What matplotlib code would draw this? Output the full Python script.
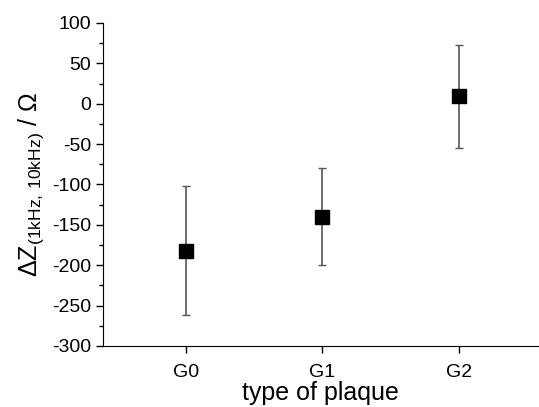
import numpy as np
import matplotlib
matplotlib.use("Agg")
import matplotlib.pyplot as plt
from matplotlib.ticker import MultipleLocator

plt.rcParams['font.family'] = ['Liberation Sans', 'DejaVu Sans']
plt.rcParams['mathtext.fontset'] = 'custom'
plt.rcParams['mathtext.rm'] = 'Liberation Sans'
plt.rcParams['mathtext.default'] = 'regular'
plt.rcParams['axes.unicode_minus'] = False

# Data
plaques = ["G0", "G1", "G2"]
delta_z = [-182, -140, 9]
delta_z_err = [80, 60, 64]

fig = plt.figure(figsize=(5.39, 4.07), dpi=100)
ax = fig.add_axes([0.191, 0.150, 0.807, 0.7935])

x = np.arange(len(plaques))
ax.errorbar(x, delta_z, yerr=delta_z_err, fmt='s', color='black',
            markersize=10, ecolor='#555555', elinewidth=1.2,
            capsize=3, capthick=1.0, zorder=3)

ax.set_xlim(-0.61, 2.58)
ax.set_ylim(-300, 100)
ax.set_xticks(x)
ax.set_xticklabels(plaques)
ax.yaxis.set_major_locator(MultipleLocator(50))
ax.yaxis.set_minor_locator(MultipleLocator(25))

ax.spines['top'].set_visible(False)
ax.spines['right'].set_visible(False)
ax.tick_params(axis='both', which='major', direction='out', length=5,
               width=1, labelsize=14)
ax.tick_params(axis='y', which='minor', direction='out', length=3, width=1)
ax.tick_params(axis='x', which='major', pad=8)

ax.set_xlabel("type of plaque", fontsize=18, labelpad=0)
ax.set_ylabel(r"$\Delta$Z$_{(1kHz{,}\ 10kHz)}$ / $\Omega$", fontsize=18,
              labelpad=4)

fig.savefig("out.png", dpi=100)
